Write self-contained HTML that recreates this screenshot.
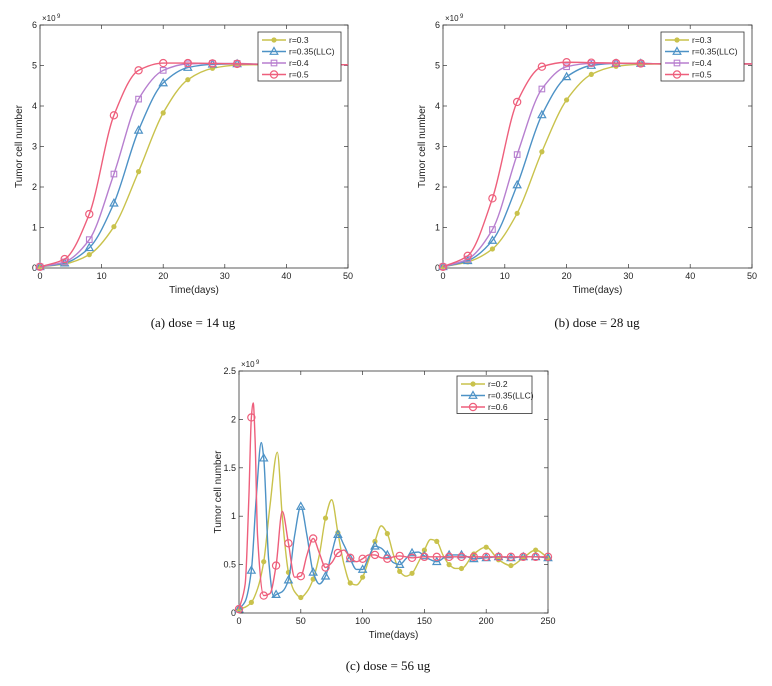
<!DOCTYPE html>
<html><head><meta charset="utf-8"><style>
body{margin:0;background:#fff;width:772px;height:681px;overflow:hidden}
svg text{font-family:"Liberation Sans",sans-serif}
svg text.cap{font-family:"Liberation Serif",serif}
</style></head><body>
<svg id="s" width="772" height="681" xmlns="http://www.w3.org/2000/svg"></svg>
<script>
// ---- data: panel (a) dose 14 ug
const tA=[0,4,8,12,16,20,24,28,32,36,40,45,50];
const a03=[0.03,0.1,0.33,1.02,2.38,3.83,4.65,4.93,5.01,5.02,5.02,5.02,5.02];
const a035=[0.03,0.12,0.5,1.6,3.4,4.57,4.95,5.03,5.04,5.03,5.02,5.02,5.02];
const a04=[0.03,0.15,0.7,2.32,4.17,4.88,5.04,5.05,5.05,5.03,5.02,5.02,5.02];
const a05=[0.03,0.22,1.33,3.77,4.88,5.06,5.06,5.05,5.04,5.03,5.02,5.02,5.02];
// ---- panel (b) dose 28 ug
const b03=[0.03,0.15,0.47,1.35,2.87,4.15,4.78,4.98,5.03,5.04,5.04,5.04,5.04];
const b035=[0.03,0.18,0.68,2.05,3.78,4.72,5.0,5.05,5.05,5.04,5.04,5.04,5.04];
const b04=[0.03,0.22,0.95,2.8,4.42,4.97,5.05,5.05,5.05,5.04,5.04,5.04,5.04];
const b05=[0.03,0.3,1.72,4.1,4.97,5.08,5.07,5.06,5.05,5.04,5.04,5.04,5.04];
// ---- panel (c) dose 56 ug
const tC02=[0,5,10,15,20,25,31,35,40,45,50,55,60,65,70,75,80,85,90,95,100,105,110,115,120,125,130,135,140,145,150,155,160,165,170,175,180,190,200,210,220,230,240,250];
const c02=[0.04,0.06,0.11,0.25,0.53,1.1,1.66,1.0,0.42,0.22,0.16,0.22,0.35,0.6,0.98,1.17,0.83,0.5,0.31,0.29,0.37,0.55,0.74,0.9,0.82,0.6,0.43,0.38,0.41,0.52,0.65,0.76,0.74,0.6,0.5,0.46,0.46,0.61,0.68,0.55,0.49,0.57,0.65,0.57];
const tC035=[0,5,10,14,18,20,24,28,30,35,40,45,50,55,60,65,70,75,80,85,90,95,100,105,110,115,120,125,130,135,140,145,150,155,160,170,180,190,200,210,220,230,240,250];
const c035=[0.04,0.12,0.44,1.2,1.76,1.6,0.55,0.17,0.19,0.22,0.34,0.8,1.1,0.8,0.42,0.3,0.38,0.62,0.81,0.7,0.56,0.45,0.45,0.58,0.69,0.67,0.6,0.52,0.5,0.56,0.62,0.63,0.59,0.55,0.53,0.6,0.6,0.56,0.57,0.58,0.57,0.58,0.58,0.57];
const tC06=[0,5,8,10,11.5,13,15,20,25,30,35,40,45,50,55,60,65,70,75,80,85,90,95,100,105,110,115,120,125,130,140,150,160,170,180,190,200,210,220,230,240,250];
const c06=[0.04,0.3,1.2,2.02,2.17,1.8,0.8,0.18,0.2,0.49,1.05,0.72,0.37,0.38,0.6,0.77,0.62,0.47,0.52,0.62,0.65,0.57,0.53,0.56,0.6,0.6,0.57,0.56,0.58,0.59,0.57,0.58,0.58,0.58,0.58,0.58,0.58,0.58,0.58,0.58,0.58,0.58];
const xTicksAB=[0,10,20,30,40,50], yTicksAB=[0,1,2,3,4,5,6];
const xTicksC=[0,50,100,150,200,250], yTicksC=[0,0.5,1,1.5,2,2.5];

const COL={y:'#c9c24c',b:'#4d92c6',p:'#b77fcf',r:'#ee5f7c'};
const NS='http://www.w3.org/2000/svg', S=document.getElementById('s');
function mk(tag,at,par){const e=document.createElementNS(NS,tag);for(const k in at)e.setAttribute(k,at[k]);(par||S).appendChild(e);return e;}
function txt(x,y,s,at,par){const e=mk('text',Object.assign({x:x,y:y,'font-size':9,fill:'#222'},at||{}),par);e.textContent=s;return e;}
function marker(g,type,x,y,c){
  if(type==='dot'){mk('circle',{cx:x,cy:y,r:2.6,fill:c},g);}
  else if(type==='tri'){mk('path',{d:`M${x},${y-4}L${x+3.8},${y+2.8}L${x-3.8},${y+2.8}Z`,fill:'none',stroke:c,'stroke-width':1.2},g);}
  else if(type==='sq'){mk('rect',{x:x-2.8,y:y-2.8,width:5.6,height:5.6,fill:'none',stroke:c,'stroke-width':1.1},g);}
  else {mk('circle',{cx:x,cy:y,r:3.6,fill:'none',stroke:c,'stroke-width':1.2},g);}
}
// monotone cubic (Fritsch-Carlson) — no overshoot
function spline(p){const n=p.length,dx=[],m=[],sl=[];
 for(let i=0;i<n-1;i++){dx[i]=p[i+1][0]-p[i][0];sl[i]=(p[i+1][1]-p[i][1])/dx[i];}
 m[0]=sl[0];m[n-1]=sl[n-2];
 for(let i=1;i<n-1;i++){if(sl[i-1]*sl[i]<=0)m[i]=0;else{const w1=2*dx[i]+dx[i-1],w2=dx[i]+2*dx[i-1];m[i]=(w1+w2)/(w1/sl[i-1]+w2/sl[i]);}}
 let d=`M${p[0][0]},${p[0][1]}`;
 for(let i=0;i<n-1;i++){const h=dx[i]/3;d+=`C${p[i][0]+h},${p[i][1]+m[i]*h} ${p[i+1][0]-h},${p[i+1][1]-m[i+1]*h} ${p[i+1][0]},${p[i+1][1]}`;}
 return d;}
function chart(o){
  const g=mk('g',{},S);
  const X=v=>o.L+(v-o.xmin)/(o.xmax-o.xmin)*(o.R-o.L), Y=v=>o.B-(v-o.ymin)/(o.ymax-o.ymin)*(o.B-o.T);
  mk('rect',{x:o.L,y:o.T,width:o.R-o.L,height:o.B-o.T,fill:'#fff',stroke:'#333','stroke-width':0.8},g);
  o.xt.forEach(v=>{const x=X(v);mk('line',{x1:x,y1:o.B,x2:x,y2:o.B-4,stroke:'#333','stroke-width':0.7},g);mk('line',{x1:x,y1:o.T,x2:x,y2:o.T+4,stroke:'#333','stroke-width':0.7},g);const t=txt(x,o.B+11,String(v),{'text-anchor':'middle'},g);});
  o.yt.forEach(v=>{const y=Y(v);mk('line',{x1:o.L,y1:y,x2:o.L+4,y2:y,stroke:'#333','stroke-width':0.7},g);mk('line',{x1:o.R,y1:y,x2:o.R-4,y2:y,stroke:'#333','stroke-width':0.7},g);const t=txt(o.L-3,y+3,String(v),{'text-anchor':'end'},g);});
  const ex=txt(o.L+2,o.T-4,'×10',{'font-size':8},g);
  txt(o.L+17,o.T-7,'9',{'font-size':6},g);
  const xl=txt((o.L+o.R)/2,o.B+25,'Time(days)',{'text-anchor':'middle','font-size':10},g);
  const yx=o.L-18,yy=(o.T+o.B)/2;const yl=txt(yx,yy,'Tumor cell number',{'text-anchor':'middle','font-size':10,transform:`rotate(-90 ${yx} ${yy})`},g);
  o.series.forEach(s=>{
    const pts=s.t.map((t,i)=>[X(t),Y(s.v[i])]);
    const p=mk('path',{d:spline(pts),fill:'none',stroke:s.c,'stroke-width':1.4},g);
    s.t.forEach((t,i)=>{if(t>0&&t%o.mstep===0&&t<=o.mmax)marker(g,s.m,X(t),Y(s.v[i]),s.c);});
    if(s.t[0]===0)marker(g,s.m,X(0),Y(s.v[0]),s.c);
  });
  const lg=mk('g',{},g);
  mk('rect',{x:o.lg[0],y:o.lg[1],width:o.lg[2],height:o.series.length*11.5+3,fill:'#fff',stroke:'#333','stroke-width':0.8},lg);
  o.series.forEach((s,i)=>{const y=o.lg[1]+8+i*11.5,x=o.lg[0]+4;
    mk('line',{x1:x,y1:y,x2:x+24,y2:y,stroke:s.c,'stroke-width':1.4},lg);marker(lg,s.m,x+12,y,s.c);
    const t=txt(x+27,y+3,s.label,{'font-size':8.5},lg);});
  const cp=mk('text',{x:o.cap[0],y:o.cap[1],'text-anchor':'middle','font-size':13,fill:'#111','class':'cap'},g);cp.textContent=o.caption;
}
const base={xmin:0,xmax:50,ymin:0,ymax:6,xt:xTicksAB,yt:yTicksAB,T:25,B:268,mstep:4,mmax:32};
chart(Object.assign({},base,{name:'chart-a',L:40,R:348,lg:[258,32,83],cap:[193,327],caption:'(a)  dose = 14 ug',series:[
 {t:tA,v:a03,c:COL.y,m:'dot',label:'r=0.3'},{t:tA,v:a035,c:COL.b,m:'tri',label:'r=0.35(LLC)'},{t:tA,v:a04,c:COL.p,m:'sq',label:'r=0.4'},{t:tA,v:a05,c:COL.r,m:'circ',label:'r=0.5'}]}));
chart(Object.assign({},base,{name:'chart-b',L:443,R:752,lg:[661,32,83],cap:[597,327],caption:'(b)  dose = 28 ug',series:[
 {t:tA,v:b03,c:COL.y,m:'dot',label:'r=0.3'},{t:tA,v:b035,c:COL.b,m:'tri',label:'r=0.35(LLC)'},{t:tA,v:b04,c:COL.p,m:'sq',label:'r=0.4'},{t:tA,v:b05,c:COL.r,m:'circ',label:'r=0.5'}]}));
chart({name:'chart-c',xmin:0,xmax:250,ymin:0,ymax:2.5,xt:xTicksC,yt:yTicksC,L:239,R:548,T:371,B:613,mstep:10,mmax:250,lg:[457,376,75],cap:[388,670],caption:'(c)  dose = 56 ug',series:[
 {t:tC02,v:c02,c:COL.y,m:'dot',label:'r=0.2'},{t:tC035,v:c035,c:COL.b,m:'tri',label:'r=0.35(LLC)'},{t:tC06,v:c06,c:COL.r,m:'circ',label:'r=0.6'}]});
</script>
</body></html>
